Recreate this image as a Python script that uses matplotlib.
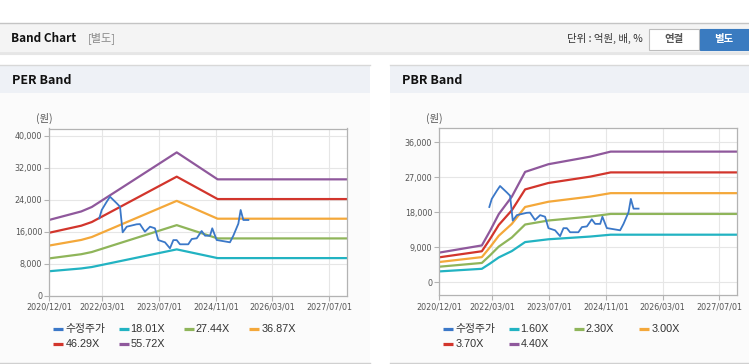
import matplotlib
matplotlib.use("Agg")
import matplotlib.pyplot as plt
import matplotlib.dates as mdates
from matplotlib.patches import Rectangle
import pandas as pd

plt.rcParams['font.family'] = ['DejaVu Sans', 'Noto Sans CJK KR']
KR = ['Noto Sans CJK KR', 'DejaVu Sans']
LEG = ['Liberation Sans', 'Noto Sans CJK KR']

# ---- data ----
price_dates = ['2022-02-03', '2022-02-24', '2022-04-08', '2022-05-06', '2022-07-03',
               '2022-07-31', '2022-08-23', '2022-09-27', '2022-12-21', '2023-01-18',
               '2023-03-02', '2023-04-15', '2023-05-27', '2023-06-25', '2023-08-21',
               '2023-10-03', '2023-11-01', '2023-11-30', '2023-12-28', '2024-03-08',
               '2024-04-07', '2024-05-20', '2024-07-01', '2024-07-30', '2024-09-11',
               '2024-09-30', '2024-10-24', '2024-11-07', '2025-03-01', '2025-03-30',
               '2025-05-12', '2025-06-01', '2025-06-24', '2025-08-06']
price_values = [19350, 21425, 23500, 24750, 23100,
                22250, 15850, 17250, 17850, 17900,
                16000, 17250, 16850, 13900, 13350,
                11850, 13900, 13900, 12850, 12850,
                14175, 14350, 16175, 15000, 15000,
                16850, 15000, 13925, 13350, 15000,
                18000, 21425, 18925, 18925]

per_dates = ['2020-12-01', '2021-09-01', '2021-12-01', '2022-09-01',
             '2023-11-30', '2024-11-15', '2027-12-01']
per_1801 = [6120, 6810, 7170, 8830, 11580, 9400, 9400]
per_2744 = [9330, 10370, 10920, 13450, 17640, 14320, 14320]
per_3687 = [12540, 13940, 14670, 18070, 23710, 19250, 19250]
per_4629 = [15740, 17500, 18420, 22680, 29760, 24160, 24160]
per_5572 = [18950, 21060, 22180, 27300, 35830, 29090, 29090]
per_labels = ['18.01X', '27.44X', '36.87X', '46.29X', '55.72X']

pbr_dates = ['2020-12-01', '2021-12-01', '2022-02-09', '2022-04-25', '2022-08-15',
             '2022-12-07', '2023-06-25', '2024-06-17', '2024-12-10', '2027-12-01']
pbr_160 = [2770, 3440, 4800, 6370, 8000, 10320, 11040, 11740, 12220, 12220]
pbr_230 = [3980, 4950, 6900, 9150, 11500, 14840, 15870, 16880, 17560, 17560]
pbr_300 = [5190, 6450, 9000, 11940, 15000, 19350, 20700, 22020, 22910, 22910]
pbr_370 = [6400, 7960, 11100, 14730, 18500, 23870, 25530, 27160, 28250, 28250]
pbr_440 = [7610, 9460, 13200, 17510, 22000, 28380, 30360, 32300, 33600, 33600]
pbr_labels = ['1.60X', '2.30X', '3.00X', '3.70X', '4.40X']

xtick_dates = ['2020-12-01', '2022-03-01', '2023-07-01', '2024-11-01', '2026-03-01', '2027-07-01']

price_color = '#3b78c8'
band_colors = ['#22b3c2', '#8fb55a', '#f4a83a', '#d2352c', '#8f589c']

W, H = 749, 364
fig = plt.figure(figsize=(W / 100, H / 100), dpi=100)
fig.patch.set_facecolor('white')

# background layer in pixel coordinates
bg = fig.add_axes([0, 0, 1, 1], zorder=0)
bg.set_xlim(0, W)
bg.set_ylim(H, 0)
bg.axis('off')

# top bar
bg.add_patch(Rectangle((0, 22.5), W, 30, fc='#f4f4f4', ec='none'))
bg.plot([0, W], [22.5, 22.5], color='#c4c4c4', lw=1)
bg.plot([0, W], [52.5, 52.5], color='#b8b8b8', lw=1)
bg.plot([0, W], [54, 54], color='#e6e6e6', lw=1.5)
bg.text(11, 38.5, 'Band Chart', fontsize=8.5, fontweight='bold', color='#111',
        va='center', family=KR)
bg.text(88, 38.5, '[별도]', fontsize=8, color='#888', va='center', family=KR)
bg.text(643, 38.5, '단위 : 억원, 배, %', fontsize=7.5, color='#333', va='center', ha='right', family=KR)
bg.add_patch(Rectangle((649, 28.5), 50, 21, fc='white', ec='#bdbdbd', lw=0.8))
bg.text(674, 39, '연결', fontsize=7.5, color='#555', fontweight='bold', ha='center', va='center', family=KR)
bg.add_patch(Rectangle((699.5, 28.5), 50, 21, fc='#3a7bc0', ec='#3a7bc0', lw=0.8))
bg.text(724, 39, '별도', fontsize=7.5, color='white', fontweight='bold', ha='center', va='center', family=KR)

# panels
for x0, x1, title in [(0, 370, 'PER Band'), (390, W, 'PBR Band')]:
    bg.add_patch(Rectangle((x0, 64.5), x1 - x0, 28, fc='#eef1f6', ec='none'))
    bg.add_patch(Rectangle((x0, 92.5), x1 - x0, 270, fc='#fbfbfb', ec='none'))
    bg.plot([x0, x1], [64.5, 64.5], color='#d8d8d8', lw=1)
    bg.plot([x0, x1], [362.5, 362.5], color='#d0d0d0', lw=1)
    bg.text(x0 + 12, 80.5, title, fontsize=9, fontweight='bold', color='#111', va='center', family=KR)


def draw_panel(rect, band_dates, bands, labels, ylim, yticks, ax_left_px):
    ax = fig.add_axes(rect, zorder=2)
    ax.set_facecolor('white')
    bd = pd.to_datetime(band_dates)
    for vals, c in zip(bands, band_colors):
        ax.plot(bd, vals, color=c, lw=1.6, solid_capstyle='butt')
    ax.plot(pd.to_datetime(price_dates), price_values, color=price_color, lw=1.3)

    ax.set_xlim(pd.Timestamp('2020-12-01'), pd.Timestamp('2027-12-01'))
    ax.set_ylim(*ylim)
    ax.set_xticks(pd.to_datetime(xtick_dates))
    ax.xaxis.set_major_formatter(mdates.DateFormatter('%Y/%m/%d'))
    ax.set_yticks(yticks)
    ax.set_yticklabels([f'{v:,}' for v in yticks])
    ax.grid(True, color='#e6e6e6', lw=0.8)
    ax.set_axisbelow(True)
    for s in ax.spines.values():
        s.set_color('#b3b3b3')
        s.set_linewidth(0.9)
    ax.tick_params(axis='both', labelsize=5.8, colors='#b3b3b3', labelcolor='#555',
                   length=3.6, width=0.8, pad=1.5)

    # unit label
    bg.text(ax_left_px - 5, 118.5, '(원)', fontsize=7.5, color='#555', ha='center', va='center', family=KR)

    # legend, drawn as a fixed grid like the original
    names = ['수정주가'] + labels
    colors = [price_color] + band_colors
    for i, (n, c) in enumerate(zip(names, colors)):
        row, col = divmod(i, 4)
        lx = ax_left_px + 4 + col * 65.3
        ly = 329.3 + row * 15
        bg.plot([lx, lx + 10], [ly, ly], color=c, lw=2.3, solid_capstyle='butt')
        bg.text(lx + 12, ly, n, fontsize=7.8, color='#333', va='center', family=LEG)
    return ax


draw_panel([49.3 / W, 1 - 295.7 / H, 297.7 / W, 167.2 / H], per_dates,
           [per_1801, per_2744, per_3687, per_4629, per_5572], per_labels,
           (0, 41800), list(range(0, 40001, 8000)), 49.3)
draw_panel([439.3 / W, 1 - 295.0 / H, 298.0 / W, 166.7 / H], pbr_dates,
           [pbr_160, pbr_230, pbr_300, pbr_370, pbr_440], pbr_labels,
           (-3300, 39600), list(range(0, 36001, 9000)), 439.3)

fig.savefig('out.png', dpi=100, facecolor='white')
